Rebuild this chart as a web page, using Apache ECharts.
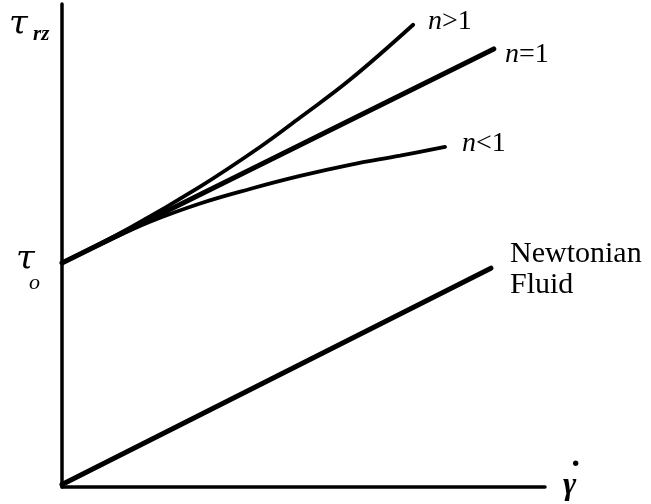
<!DOCTYPE html>
<html>
<head>
<meta charset="utf-8">
<script src="https://cdn.jsdelivr.net/npm/echarts@6/dist/echarts.min.js"></script>
<style>
  html, body { margin: 0; padding: 0; background: #fff; }
  #chart { width: 651px; height: 504px; }
</style>
</head>
<body>
<div id="chart"></div>
<script>
// Shear stress vs shear rate for a yield-stress fluid (n = 1, n > 1, n < 1) and a Newtonian fluid
const shearTrendFluid = [[0, 4.64], [8.94, 9.07]];                    // n = 1
const shearThickening = [[0, 4.64], [1.41, 5.37], [2.86, 6.22], [4.10, 7.04],
                         [4.93, 7.65], [5.96, 8.43], [7.27, 9.57]];     // n > 1
const shearThinning  = [[0, 4.64], [0.79, 5.02], [1.82, 5.49], [2.86, 5.87],
                        [3.89, 6.17], [4.93, 6.44], [5.96, 6.67],
                        [7.00, 6.86], [7.93, 7.04]];                    // n < 1
const newtonian      = [[0, 0.05], [8.88, 4.53]];

const serif = '"Liberation Serif", "DejaVu Serif", serif';
const greek = '"DejaVu Serif", "Liberation Serif", serif';

const chart = echarts.init(document.getElementById('chart'));

function curve(data, width) {
  return {
    type: 'line',
    data: data,
    smooth: 0.4,
    showSymbol: false,
    symbol: 'none',
    lineStyle: { color: '#000', width: width, cap: 'round' },
    animation: false,
    silent: true
  };
}

function txt(left, top, text, font) {
  return { type: 'text', left: left, top: top, style: { text: text, font: font, fill: '#000' } };
}

function nLabel(left, top, rest) {
  return { type: 'text', left: left, top: top, style: {
    text: '{i|n}' + rest, font: '28px ' + serif, fill: '#000',
    rich: { i: { font: 'italic 28px ' + serif, fill: '#000' } } } };
}

chart.setOption({
  backgroundColor: '#fff',
  animation: false,
  grid: { left: 62, top: 4, right: 106, bottom: 17, containLabel: false },
  xAxis: {
    type: 'value', min: 0, max: 10,
    axisLine: { show: true, onZero: false, lineStyle: { color: '#000', width: 3.5 } },
    axisTick: { show: false }, axisLabel: { show: false }, splitLine: { show: false }
  },
  yAxis: {
    type: 'value', min: 0, max: 10,
    axisLine: { show: true, onZero: false, lineStyle: { color: '#000', width: 3.5 } },
    axisTick: { show: false }, axisLabel: { show: false }, splitLine: { show: false }
  },
  series: [
    curve(shearThickening, 3.8),
    curve(shearTrendFluid, 5),
    curve(shearThinning, 3.8),
    curve(newtonian, 5)
  ],
  graphic: [
    // axis titles
    txt(9, 8, 'τ', 'italic 34px ' + greek),
    txt(33, 24, 'rz', 'italic bold 21px ' + serif),
    txt(16, 243, 'τ', 'italic 34px ' + greek),
    txt(29, 272, 'o', 'italic 22px ' + serif),
    txt(563, 470, 'γ', 'italic bold 32px ' + serif),
    txt(570, 448, '·', 'bold 34px ' + serif),
    // curve labels
    nLabel(428, 8, '>1'),
    nLabel(505, 41, '=1'),
    nLabel(462, 130, '<1'),
    { type: 'text', left: 510, top: 239, style: { text: 'Newtonian\nFluid', font: '30px ' + serif,
        lineHeight: 31, fill: '#000' } }
  ]
});
</script>
</body>
</html>
